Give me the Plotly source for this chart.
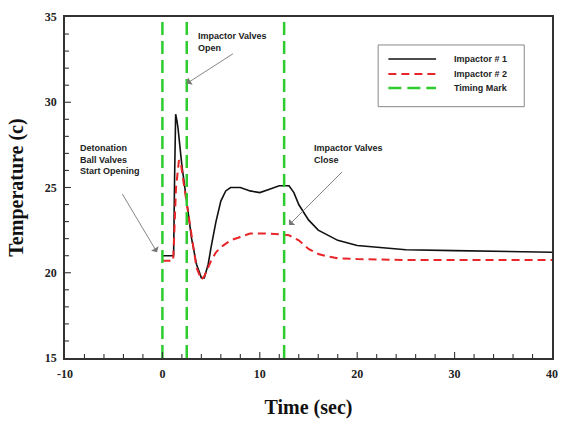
import plotly.graph_objects as go

# Impactor #1 temperature record
t1 = [0.0, 0.5, 1.0, 1.15, 1.25, 1.36, 1.5, 1.6, 2.0, 2.5, 3.0, 3.5, 4.0, 4.3, 4.7, 5.0, 5.5,
      6.0, 6.5, 7.0, 8.0, 9.0, 10.0, 11.0, 12.0, 13.0, 13.5, 14.0, 15.0, 16.0, 17.0, 18.0,
      20.0, 22.0, 25.0, 30.0, 35.0, 40.0]
temp1 = [21.0, 21.0, 21.0, 21.0, 25.5, 29.3, 28.9, 28.5, 26.3, 24.0, 22.0, 20.5, 19.7, 19.7,
         20.5, 21.5, 23.0, 24.2, 24.8, 25.0, 25.0, 24.8, 24.7, 24.9, 25.1, 25.1, 24.7, 24.0,
         23.1, 22.5, 22.2, 21.9, 21.6, 21.5, 21.35, 21.3, 21.25, 21.2]

# Impactor #2 temperature record
t2 = [0.0, 0.5, 1.1, 1.2, 1.4, 1.7, 1.9, 2.2, 2.5, 3.0, 3.5, 4.0, 4.3, 5.0, 5.5, 6.0, 7.0,
      8.0, 9.0, 10.0, 11.0, 12.0, 13.0, 14.0, 15.0, 16.0, 17.0, 18.0, 20.0, 25.0, 30.0, 40.0]
temp2 = [20.7, 20.7, 20.7, 22.0, 25.0, 26.6, 26.4, 25.2, 24.0, 22.0, 20.3, 19.6, 19.8, 20.7,
         21.2, 21.5, 21.9, 22.1, 22.3, 22.3, 22.3, 22.25, 22.2, 21.9, 21.4, 21.1, 20.95,
         20.85, 20.8, 20.75, 20.75, 20.75]

# Timing marks (vertical)
timing_marks = [0.0, 2.5, 12.5]
y_range = [15, 35]
x_range = [-10, 40]
x_ticks = [-10, 0, 10, 20, 30, 40]
x_tick_labels = ["-10", "0", "10", "20", "30", "40"]
y_ticks = [15, 20, 25, 30, 35]

series_names = ["Impactor # 1", "Impactor # 2", "Timing Mark"]
series_colors = ["#111111", "#e8262a", "#2ecc2e"]
series_widths = [1.6, 2, 2.5]
series_dash = ["solid", "8px,5px", "13px,6px"]

tx, ty = [], []
for m in timing_marks:
    tx += [m, m, None]
    ty += [y_range[0], y_range[1], None]

fig = go.Figure()
for (xs, ys), name, col, w, d in zip([(t1, temp1), (t2, temp2), (tx, ty)],
                                     series_names, series_colors, series_widths, series_dash):
    fig.add_trace(go.Scatter(x=xs, y=ys, mode="lines", name=name, showlegend=False,
                             line=dict(color=col, width=w, dash=d)))

ann_font = dict(family="Liberation Sans", size=9, color="#222222", weight="bold")

# Text labels
labels = [
    (-8.7, 27.7, "Detonation<br>Ball Valves<br>Start Opening"),
    (3.4, 34.3, "Impactor Valves<br>Open"),
    (15.35, 27.7, "Impactor Valves<br>Close"),
]
for lx, ly, txt in labels:
    fig.add_annotation(x=lx, y=ly, text=txt, showarrow=False, xanchor="left", yanchor="top",
                       align="left", font=ann_font)

# Arrows: (head x, head y, tail x, tail y)
arrows = [
    (-0.55, 21.2, -4.2, 24.7),
    (2.5, 31.1, 7.4, 32.9),
    (13.0, 22.8, 18.6, 26.0),
]
for hx, hy, sx, sy in arrows:
    fig.add_annotation(x=hx, y=hy, ax=sx, ay=sy, xref="x", yref="y", axref="x", ayref="y",
                       text="", showarrow=True, arrowhead=1, arrowsize=1.6, arrowwidth=0.9,
                       arrowcolor="#777777")

# Legend box drawn in paper coordinates
lg_x0, lg_x1, lg_y0, lg_y1 = 0.643, 0.943, 0.737, 0.918
fig.add_shape(type="rect", xref="paper", yref="paper", x0=lg_x0, x1=lg_x1, y0=lg_y0, y1=lg_y1,
              line=dict(color="#888888", width=1), fillcolor="white", layer="above")
row_y = [0.877, 0.833, 0.792]
for ry, name, col, w, d in zip(row_y, series_names, series_colors, series_widths, series_dash):
    fig.add_shape(type="line", xref="paper", yref="paper", x0=0.664, x1=0.762, y0=ry, y1=ry,
                  line=dict(color=col, width=w, dash=d), layer="above")
    fig.add_annotation(xref="paper", yref="paper", x=0.795, y=ry, text=name, showarrow=False,
                       xanchor="left", yanchor="middle",
                       font=dict(family="Liberation Sans", size=9, color="#222222",
                                 weight="bold"))

tick_font = dict(family="Liberation Serif", size=12, color="#222222", weight="bold")
title_font = dict(family="Liberation Serif", size=20, color="#111111", weight="bold")

# Minor tick marks along the bottom and left edges, drawn as short line shapes
x_minor = [v for v in range(-8, 40, 2)]
y_minor = [v for v in range(16, 35)]
for v in x_minor:
    ln = 6 if v % 10 == 0 else 4
    fig.add_shape(type="line", xref="x", yref="paper", x0=v, x1=v, y0=0, y1=ln / 342,
                  line=dict(color="#333333", width=1.1), layer="above")
for v in y_minor:
    ln = 6 if v % 5 == 0 else 4
    fig.add_shape(type="line", xref="paper", yref="y", x0=0, x1=ln / 493, y0=v, y1=v,
                  line=dict(color="#333333", width=1.1), layer="above")

fig.update_xaxes(range=x_range, tickmode="array", tickvals=x_ticks, ticktext=x_tick_labels,
                 ticks="", showline=True, linecolor="#333333", linewidth=1.5, mirror=True,
                 showgrid=False, zeroline=False, tickfont=tick_font, ticklabelstandoff=4,
                 title=dict(text="Time (sec)", font=title_font, standoff=20))
fig.update_yaxes(range=y_range, tickmode="array", tickvals=y_ticks, ticks="",
                 showline=True, linecolor="#333333", linewidth=1.5, mirror=True,
                 showgrid=False, zeroline=False, tickfont=tick_font, ticklabelstandoff=4,
                 title=dict(text="Temperature (c)", font=title_font, standoff=16))

fig.update_layout(
    width=568, height=426,
    margin=dict(l=65, r=10, t=16, b=68),
    plot_bgcolor="white", paper_bgcolor="white",
    showlegend=False,
)

fig.write_html("out.html")
